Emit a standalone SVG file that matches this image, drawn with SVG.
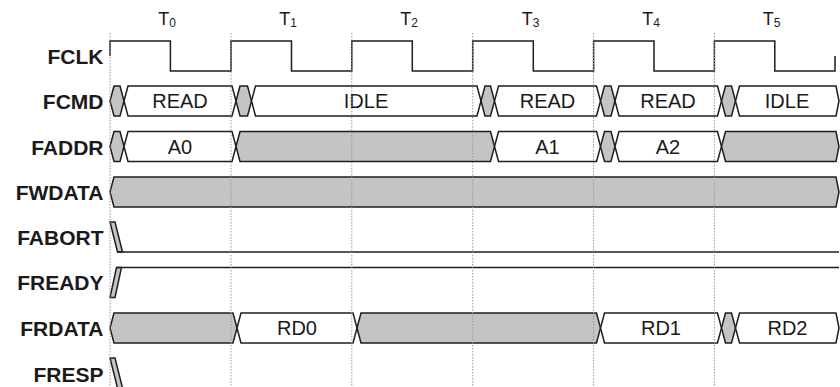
<svg xmlns="http://www.w3.org/2000/svg" width="840" height="387" viewBox="0 0 840 387">
<style>
.bg{fill:#ffffff}
.lbl{font-family:"Liberation Sans",Arial,sans-serif;font-size:21px;font-weight:bold;fill:#1a1a1a;text-anchor:end}
.tl{font-family:"Liberation Sans",Arial,sans-serif;font-size:18px;fill:#1a1a1a;text-anchor:middle}
.val{font-family:"Liberation Sans",Arial,sans-serif;font-size:20px;fill:#1a1a1a;text-anchor:middle}
.x{fill:#c4c4c4;stroke:#1e1e1e;stroke-width:1.5;stroke-linejoin:miter}
.v{fill:#ffffff;stroke:#1e1e1e;stroke-width:1.5;stroke-linejoin:miter}
.w{fill:none;stroke:#1e1e1e;stroke-width:1.5}
.grid{stroke:#9a9a9a;stroke-width:1;stroke-dasharray:1.5 1.5;fill:none}
</style>
<rect class="bg" x="0" y="0" width="840" height="387"/>

<g id="time-labels">
<text class="tl" x="167" y="25">T<tspan font-size="12" dy="2">0</tspan></text>
<text class="tl" x="288" y="25">T<tspan font-size="12" dy="2">1</tspan></text>
<text class="tl" x="409" y="25">T<tspan font-size="12" dy="2">2</tspan></text>
<text class="tl" x="530.5" y="25">T<tspan font-size="12" dy="2">3</tspan></text>
<text class="tl" x="651" y="25">T<tspan font-size="12" dy="2">4</tspan></text>
<text class="tl" x="771.5" y="25">T<tspan font-size="12" dy="2">5</tspan></text>
</g>

<g id="FCLK">
<text class="lbl" x="103.5" y="63.5">FCLK</text>
<path class="w" d="M110,56 V41 H170.4 V71 H231 V41 H291.5 V71 H351.8 V41 H412.3 V71 H472.7 V41 H533.3 V71 H593.6 V41 H654 V71 H714.4 V41 H774.8 V71 H835 V56"/>
</g>

<g id="FCMD">
<text class="lbl" x="103.5" y="108.5">FCMD</text>
<polygon class="x" points="110,101 114,86 120,86 124,101 120,116 114,116"/>
<polygon class="v" points="124,101 128,86 232,86 236,101 232,116 128,116"/>
<polygon class="x" points="236,101 240,86 247.5,86 251.5,101 247.5,116 240,116"/>
<polygon class="v" points="251.5,101 255.5,86 477,86 481,101 477,116 255.5,116"/>
<polygon class="x" points="481,101 485,86 490.5,86 494.5,101 490.5,116 485,116"/>
<polygon class="v" points="494.5,101 498.5,86 596.5,86 600.5,101 596.5,116 498.5,116"/>
<polygon class="x" points="600.5,101 604.5,86 611,86 615,101 611,116 604.5,116"/>
<polygon class="v" points="615,101 619,86 717.5,86 721.5,101 717.5,116 619,116"/>
<polygon class="x" points="721.5,101 725.5,86 731.5,86 735.5,101 731.5,116 725.5,116"/>
<polygon class="v" points="735.5,101 739.5,86 836,86 839,101 836,116 739.5,116"/>
<text class="val" x="180" y="108.3">READ</text>
<text class="val" x="366" y="108.3">IDLE</text>
<text class="val" x="547.5" y="108.3">READ</text>
<text class="val" x="668" y="108.3">READ</text>
<text class="val" x="787" y="108.3">IDLE</text>
</g>

<g id="FADDR">
<text class="lbl" x="103.5" y="154.5">FADDR</text>
<polygon class="x" points="110,146.5 114,131.5 120,131.5 124,146.5 120,161.5 114,161.5"/>
<polygon class="v" points="124,146.5 128,131.5 232,131.5 236,146.5 232,161.5 128,161.5"/>
<polygon class="x" points="236,146.5 240,131.5 490.5,131.5 494.5,146.5 490.5,161.5 240,161.5"/>
<polygon class="v" points="494.5,146.5 498.5,131.5 596.5,131.5 600.5,146.5 596.5,161.5 498.5,161.5"/>
<polygon class="x" points="600.5,146.5 604.5,131.5 611,131.5 615,146.5 611,161.5 604.5,161.5"/>
<polygon class="v" points="615,146.5 619,131.5 717.5,131.5 721.5,146.5 717.5,161.5 619,161.5"/>
<polygon class="x" points="721.5,146.5 725.5,131.5 836,131.5 839,146.5 836,161.5 725.5,161.5"/>
<text class="val" x="180" y="153.8">A0</text>
<text class="val" x="547.5" y="153.8">A1</text>
<text class="val" x="668" y="153.8">A2</text>
</g>

<g id="FWDATA">
<text class="lbl" x="103.5" y="199.5">FWDATA</text>
<polygon class="x" points="110,192 114,177 836,177 839,192 836,207 114,207"/>
</g>

<g id="FABORT">
<text class="lbl" x="103.5" y="244.5">FABORT</text>
<polygon class="x" points="110,222 115,222 122.5,252 117.5,252"/>
<path class="w" d="M117.5,252 H839"/>
</g>

<g id="FREADY">
<text class="lbl" x="103.5" y="290">FREADY</text>
<polygon class="x" points="110,297.5 115,297.5 121.5,267.5 116.5,267.5"/>
<path class="w" d="M116.5,267.5 H839"/>
</g>

<g id="FRDATA">
<text class="lbl" x="103.5" y="336">FRDATA</text>
<polygon class="x" points="110,328 114,313 233,313 237,328 233,343 114,343"/>
<polygon class="v" points="237,328 241,313 353,313 357,328 353,343 241,343"/>
<polygon class="x" points="357,328 361,313 596.5,313 600.5,328 596.5,343 361,343"/>
<polygon class="v" points="600.5,328 604.5,313 717.5,313 721.5,328 717.5,343 604.5,343"/>
<polygon class="x" points="721.5,328 725.5,313 731.5,313 735.5,328 731.5,343 725.5,343"/>
<polygon class="v" points="735.5,328 739.5,313 836,313 839,328 836,343 739.5,343"/>
<text class="val" x="297" y="335.3">RD0</text>
<text class="val" x="661" y="335.3">RD1</text>
<text class="val" x="787.5" y="335.3">RD2</text>
</g>

<g id="FRESP">
<text class="lbl" x="103.5" y="381.5">FRESP</text>
<polygon class="x" points="110,358 115,358 122.5,388 117.5,388"/>
</g>

<g id="connectors">
<path class="grid" d="M110,33 V387 M231,33 V387 M351.8,33 V387 M472.7,33 V387 M593.6,33 V387 M714.4,33 V387"/>
</g>
</svg>
